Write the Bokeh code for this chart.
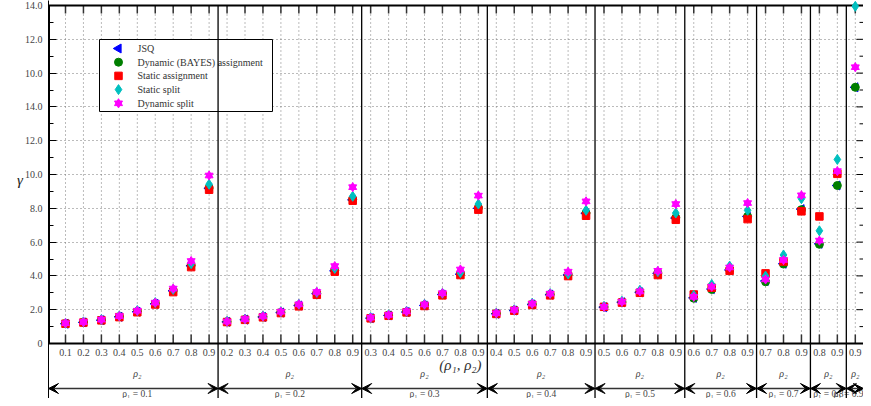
import numpy as np
from bokeh.plotting import figure
from bokeh.models import Range1d, FixedTicker, ColumnDataSource, Arrow, VeeHead
from bokeh.core.properties import value
from bokeh.embed import file_html
from bokeh.resources import INLINE

# ---------------- data ----------------
rho1_values = [0.1, 0.2, 0.3, 0.4, 0.5, 0.6, 0.7, 0.8, 0.9]
rho2_values = [0.1, 0.2, 0.3, 0.4, 0.5, 0.6, 0.7, 0.8, 0.9]

series_names = ["JSQ", "Dynamic (BAYES) assignment", "Static assignment",
                "Static split", "Dynamic split"]

jsq = [1.17, 1.25, 1.38, 1.58, 1.88, 2.35, 3.12, 4.60, 9.18,
       1.28, 1.41, 1.57, 1.83, 2.25, 2.95, 4.30, 8.50,
       1.50, 1.66, 1.86, 2.25, 2.90, 4.10, 8.00,
       1.76, 1.95, 2.31, 2.89, 4.05, 7.70,
       2.15, 2.44, 3.03, 4.15, 7.42,
       2.70, 3.22, 4.35, 7.52,
       3.70, 4.72, 7.95,
       5.90, 9.35,
       15.16]
bayes = [1.18, 1.25, 1.39, 1.59, 1.89, 2.36, 3.13, 4.62, 9.20,
         1.29, 1.42, 1.58, 1.84, 2.26, 2.96, 4.32, 8.52,
         1.51, 1.67, 1.87, 2.26, 2.91, 4.12, 8.02,
         1.77, 1.96, 2.32, 2.90, 4.07, 7.72,
         2.16, 2.45, 3.05, 4.17, 7.44,
         2.68, 3.20, 4.36, 7.52,
         3.65, 4.70, 7.92,
         5.87, 9.35,
         15.16]
static_assign = [1.17, 1.24, 1.37, 1.56, 1.85, 2.31, 3.04, 4.52, 9.10,
                 1.27, 1.40, 1.55, 1.80, 2.20, 2.88, 4.25, 8.45,
                 1.49, 1.64, 1.84, 2.22, 2.85, 4.05, 7.92,
                 1.75, 1.94, 2.28, 2.85, 3.99, 7.56,
                 2.17, 2.42, 3.00, 4.05, 7.32,
                 2.90, 3.30, 4.30, 7.36,
                 4.15, 4.85, 7.82,
                 7.52, 10.04,
                 float("nan")]
static_split = [1.20, 1.28, 1.42, 1.63, 1.95, 2.42, 3.20, 4.72, 9.42,
                1.32, 1.45, 1.62, 1.88, 2.32, 3.02, 4.44, 8.71,
                1.54, 1.70, 1.91, 2.32, 2.97, 4.19, 8.25,
                1.80, 2.00, 2.38, 2.96, 4.11, 7.88,
                2.20, 2.50, 3.15, 4.25, 7.72,
                2.85, 3.49, 4.58, 7.88,
                3.99, 5.24, 8.57,
                6.67, 10.89,
                19.95]
dynamic_split = [1.20, 1.27, 1.41, 1.62, 1.94, 2.42, 3.25, 4.88, 9.94,
                 1.30, 1.44, 1.61, 1.88, 2.32, 3.05, 4.58, 9.25,
                 1.53, 1.69, 1.90, 2.31, 2.98, 4.38, 8.75,
                 1.79, 1.99, 2.36, 2.95, 4.25, 8.41,
                 2.17, 2.47, 3.08, 4.30, 8.25,
                 2.76, 3.36, 4.50, 8.31,
                 3.79, 4.94, 8.77,
                 6.09, 10.20,
                 16.35]

y_ticks = [0, 2, 4, 6, 8, 10, 12, 14, 16, 18, 20]
y_tick_labels = ["0", "2.0", "4.0", "6.0", "8.0", "10.0", "12.0", "14.0", "10.0", "12.0", "14.0"]
y_minor_ticks = [1, 3, 5, 7, 9, 11, 13, 15, 17, 19]

# ---------------- derived categories ----------------
pairs = [(r1, r2) for r1 in rho1_values for r2 in rho2_values if r2 >= r1 - 1e-9]
xs = np.arange(len(pairs), dtype=float)
group_sizes = [sum(1 for r2 in rho2_values if r2 >= r1 - 1e-9) for r1 in rho1_values]

# ---------------- geometry (canvas pixels) ----------------
W, H = 863, 398
FL, FT = 48, 0
X_PX, X_FIRST = 17.95, 65.0
Y_PX, Y_ZERO = 16.9, 343.0
X0 = (FL - X_FIRST) / X_PX
X1 = (W - X_FIRST) / X_PX
Y1 = (Y_ZERO - FT) / Y_PX
Y0 = -(H - Y_ZERO) / Y_PX


def dy(px):
    return px / Y_PX


def dx(px):
    return px / X_PX


FONT_NAME = "Liberation Serif, Times New Roman, serif"
FONT = value(FONT_NAME)
TXT = "#444444"

p = figure(width=W, height=H, output_backend="svg", toolbar_location=None,
           x_range=Range1d(X0, X1), y_range=Range1d(Y0, Y1),
           x_axis_location=None, min_border_left=FL, min_border_right=0,
           min_border_top=FT, min_border_bottom=0,
           background_fill_color="white", border_fill_color="white",
           outline_line_color=None)

# y axis
ya = p.yaxis[0]
ya.ticker = FixedTicker(ticks=y_ticks, minor_ticks=y_minor_ticks)
ya.major_label_overrides = dict(zip(y_ticks, y_tick_labels))
ya.major_tick_in = 8
ya.major_tick_out = 0
ya.minor_tick_in = 5
ya.minor_tick_out = 0
ya.major_tick_line_color = "black"
ya.minor_tick_line_color = "black"
ya.major_label_standoff = 6
ya.major_label_text_font = FONT_NAME
ya.major_label_text_font_size = "10px"
ya.major_label_text_color = TXT
ya.axis_line_color = "black"
ya.axis_line_width = 1
ya.axis_label = "γ\n \n "
ya.axis_label_orientation = "horizontal"
ya.axis_label_text_font = FONT_NAME
ya.axis_label_text_font_style = "italic"
ya.axis_label_text_font_size = "15px"
ya.axis_label_text_color = "#222222"
ya.axis_label_standoff = -1

for g in p.ygrid:
    g.ticker = FixedTicker(ticks=y_ticks)
    g.grid_line_color = "#777777"
    g.grid_line_dash = "1 3"
    g.grid_line_width = 1
for g in p.xgrid:
    g.visible = False

# vertical dotted grid at each category
p.segment(x0=xs, y0=np.zeros_like(xs), x1=xs, y1=np.full_like(xs, 20.0),
          line_color="#777777", line_dash="1 3", line_width=1, level="underlay")

# bottom / top ticks at each category
p.segment(x0=xs, y0=np.zeros_like(xs), x1=xs, y1=np.full_like(xs, dy(9)),
          line_color="#333333", line_width=1.5)
p.segment(x0=xs, y0=np.full_like(xs, 20.0), x1=xs, y1=np.full_like(xs, 20.0 - dy(8)),
          line_color="#333333", line_width=1.5)
# right-side ticks
yt = np.array(y_ticks, dtype=float)
ym = np.array(y_minor_ticks, dtype=float)
p.segment(x0=np.full_like(yt, X1 - dx(7)), y0=yt, x1=np.full_like(yt, X1), y1=yt,
          line_color="black", line_width=1)
p.segment(x0=np.full_like(ym, X1 - dx(4)), y0=ym, x1=np.full_like(ym, X1), y1=ym,
          line_color="black", line_width=1)

# frame lines: bottom (y=0), top (y=20), thick left part
p.segment(x0=[X0], y0=[0.0], x1=[X1], y1=[0.0], line_color="black", line_width=2)
p.segment(x0=[X0], y0=[20.0], x1=[X1], y1=[20.0], line_color="black", line_width=2)
p.segment(x0=[X0], y0=[0.0], x1=[X0], y1=[20.0], line_color="black", line_width=3)

# ---------------- data markers ----------------
STY = [dict(marker="triangle", angle=np.pi / 2, size=9, color="blue"),
       dict(marker="circle", size=8, color="#007f00"),
       dict(marker="square", size=7.5, color="red"),
       dict(marker="diamond", size=10, color="#00bfbf")]
series = [jsq, bayes, static_assign, static_split]
for vals, sty in zip(series, STY):
    p.scatter(xs, vals, **sty)
p.scatter(xs, dynamic_split, marker="triangle", size=8, color="magenta")
p.scatter(xs, dynamic_split, marker="inverted_triangle", size=8, color="magenta")

# ---------------- legend (drawn as an opaque framed box) ----------------
LG_LEFT, LG_RIGHT = (99 - X_FIRST) / X_PX, (272 - X_FIRST) / X_PX
LG_TOP, LG_BOT = (Y_ZERO - 39) / Y_PX, (Y_ZERO - 111) / Y_PX
ROW_PX = 13.7
row_y = [LG_TOP - dy(9 + ROW_PX * i) for i in range(len(series_names))]
mk_x = (118 - X_FIRST) / X_PX
tx_x = (137 - X_FIRST) / X_PX

p.quad(left=[LG_LEFT], right=[LG_RIGHT], top=[LG_TOP], bottom=[LG_BOT],
       fill_color="white", line_color="black", line_width=1, level="annotation")
for i, sty in enumerate(STY):
    p.scatter([mk_x], [row_y[i]], level="annotation", **sty)
p.scatter([mk_x], [row_y[4]], marker="triangle", size=8, color="magenta", level="annotation")
p.scatter([mk_x], [row_y[4]], marker="inverted_triangle", size=8, color="magenta",
          level="annotation")
p.text(x=[tx_x] * len(series_names), y=row_y, text=series_names, text_font=FONT,
       text_font_size=value("10px"), text_color="#333333", text_align="left",
       text_baseline="middle", level="annotation")

# ---------------- lower region: groups ----------------
bounds = [X0]
acc = 0
for n in group_sizes:
    acc += n
    bounds.append(acc - 0.5)
bounds[-1] = X1
seps = bounds[1:-1]

p.segment(x0=seps, y0=[Y0] * len(seps), x1=seps, y1=[20.0] * len(seps),
          line_color="black", line_width=1.3, level="overlay")

# rho2 tick labels
p.text(x=xs, y=np.full_like(xs, -dy(9)), text=[f"{r2:.1f}" for _, r2 in pairs],
       text_font=FONT, text_font_size=value("10px"), text_color=TXT,
       text_align="center", text_baseline="middle")

starts = np.cumsum([0] + group_sizes[:-1])
centers = [s + (n - 1) / 2 for s, n in zip(starts, group_sizes)]
p.text(x=centers, y=[-dy(30)] * len(centers), text=["ρ₂"] * len(centers),
       text_font=FONT, text_font_style="italic", text_font_size=value("10px"),
       text_color=TXT, text_align="center", text_baseline="middle")

# overall x label
p.text(x=[22.0], y=[-dy(21)], text=["(ρ₁, ρ₂)"], text_font=FONT,
       text_font_style="italic", text_font_size=value("15px"), text_color="#333333",
       text_align="center", text_baseline="middle")

# arrows per group
arr = ColumnDataSource(dict(xs=bounds[:-1], xe=bounds[1:],
                            ys=[-dy(45)] * len(group_sizes), ye=[-dy(45)] * len(group_sizes)))
p.add_layout(Arrow(x_start="xs", y_start="ys", x_end="xe", y_end="ye", source=arr,
                   line_color="#333333", line_width=1.5,
                   start=VeeHead(size=10, fill_color="black", line_color="black"),
                   end=VeeHead(size=10, fill_color="black", line_color="black")))

lab_x = list(centers)
lab_align = ["center"] * len(centers)
lab_x[-1] = X1
lab_align[-1] = "right"
p.text(x=lab_x, y=[-dy(50.5)] * len(centers),
       text=[f"ρ₁ = {r1:.1f}" for r1 in rho1_values], text_align=lab_align,
       text_font=FONT, text_font_size=value("9.5px"), text_color=TXT,
       text_baseline="middle")

open("out.html", "w").write(file_html(p, INLINE))
